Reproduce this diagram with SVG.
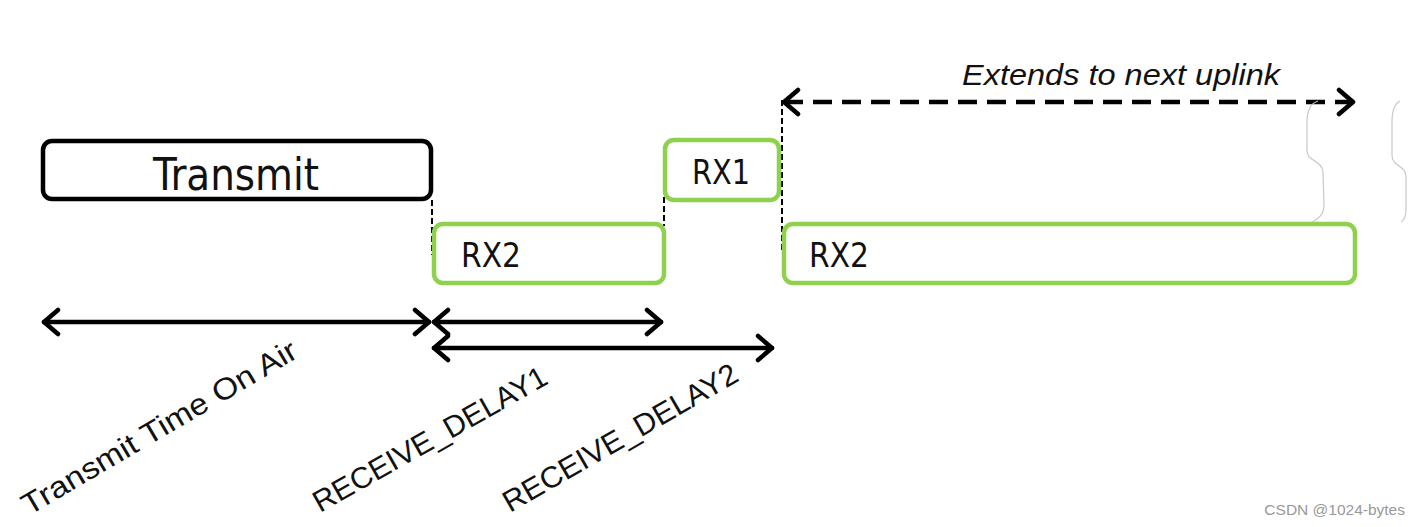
<svg xmlns="http://www.w3.org/2000/svg" width="1420" height="527" viewBox="0 0 1420 527">
<defs>
<style>
.box{fill:#fff;stroke-width:4.5}
.tx{stroke:#000}
.rx{stroke:#8fd14f}
.lbl{font-family:"DejaVu Sans Condensed","DejaVu Sans",sans-serif;fill:#111}
.guide{stroke:#000;stroke-width:2;stroke-dasharray:6 3;fill:none}
.dim{stroke:#000;stroke-width:4.5;fill:none;stroke-linecap:round;stroke-linejoin:round}
.rot{font-family:"Liberation Sans",Arial,sans-serif;font-size:30px;fill:#111}
.brace{stroke:#c8c8c8;stroke-width:1.2;fill:none}
</style>
<marker id="ah" viewBox="0 0 20 30" refX="17" refY="15" markerWidth="20" markerHeight="30" markerUnits="userSpaceOnUse" orient="auto-start-reverse">
<path d="M3,3 L17,15 L3,27" fill="none" stroke="#000" stroke-width="4.5" stroke-linecap="round" stroke-linejoin="round"/>
</marker>
</defs>
<rect width="1420" height="527" fill="#fff"/>

<g id="connectors">
<line class="guide" x1="432" y1="200" x2="432" y2="255"/>
<line class="guide" x1="664" y1="170" x2="664" y2="226"/>
<line class="guide" x1="782" y1="100" x2="782" y2="252"/>
<line class="dim" x1="44" y1="322" x2="429" y2="322" marker-start="url(#ah)" marker-end="url(#ah)"/>
<line class="dim" x1="434" y1="322" x2="661" y2="322" marker-start="url(#ah)" marker-end="url(#ah)"/>
<line class="dim" x1="434" y1="348" x2="772" y2="348" marker-start="url(#ah)" marker-end="url(#ah)"/>
<line x1="784" y1="102" x2="1353" y2="102" stroke="#000" stroke-width="4.5" stroke-dasharray="19 10" marker-start="url(#ah)" marker-end="url(#ah)"/>
</g>

<g id="transmit">
<rect class="box tx" x="43" y="141" width="388" height="58" rx="9"/>
<text class="lbl" x="236" y="190" font-size="44" text-anchor="middle" textLength="166" lengthAdjust="spacingAndGlyphs">Transmit</text>
</g>

<g id="rx2a">
<rect class="box rx" x="434" y="224" width="230" height="59" rx="9"/>
<text class="lbl" x="461" y="267" font-size="34" textLength="60" lengthAdjust="spacingAndGlyphs">RX2</text>
</g>

<g id="rx1">
<rect class="box rx" x="665" y="140" width="114" height="60" rx="9"/>
<text class="lbl" x="721" y="184" font-size="33" text-anchor="middle" textLength="58" lengthAdjust="spacingAndGlyphs">RX1</text>
</g>

<g id="rx2b">
<rect class="box rx" x="784" y="224" width="571" height="59" rx="9"/>
<text class="lbl" x="809" y="267" font-size="34" textLength="60" lengthAdjust="spacingAndGlyphs">RX2</text>
</g>

<g id="extends">
<text x="962" y="85" font-family="'Liberation Sans',Arial,sans-serif" font-style="italic" font-size="30" fill="#111" textLength="318" lengthAdjust="spacingAndGlyphs">Extends to next uplink</text>
</g>

<g id="braces">
<path class="brace" d="M1318,101 C1309,104 1307,112 1307,122 L1307,150 C1307,162 1322,160 1323,172 L1324,205 C1324,215 1318,219 1312,222"/>
<path class="brace" d="M1400,101 C1394,104 1392,112 1392,122 L1392,155 C1392,167 1406,165 1406,177 L1406,210 C1406,216 1404,220 1401,222"/>
</g>

<g id="labels">
<text class="rot" transform="translate(29,516) rotate(-30.5)" textLength="314" lengthAdjust="spacingAndGlyphs">Transmit Time On Air</text>
<text class="rot" transform="translate(320,513) rotate(-29.5)" textLength="264" lengthAdjust="spacingAndGlyphs">RECEIVE_DELAY1</text>
<text class="rot" transform="translate(510,513) rotate(-30)" textLength="266" lengthAdjust="spacingAndGlyphs">RECEIVE_DELAY2</text>
</g>

<text x="1405" y="515" font-family="'Liberation Sans',Arial,sans-serif" font-size="15.5" fill="#999" text-anchor="end">CSDN @1024-bytes</text>
</svg>
